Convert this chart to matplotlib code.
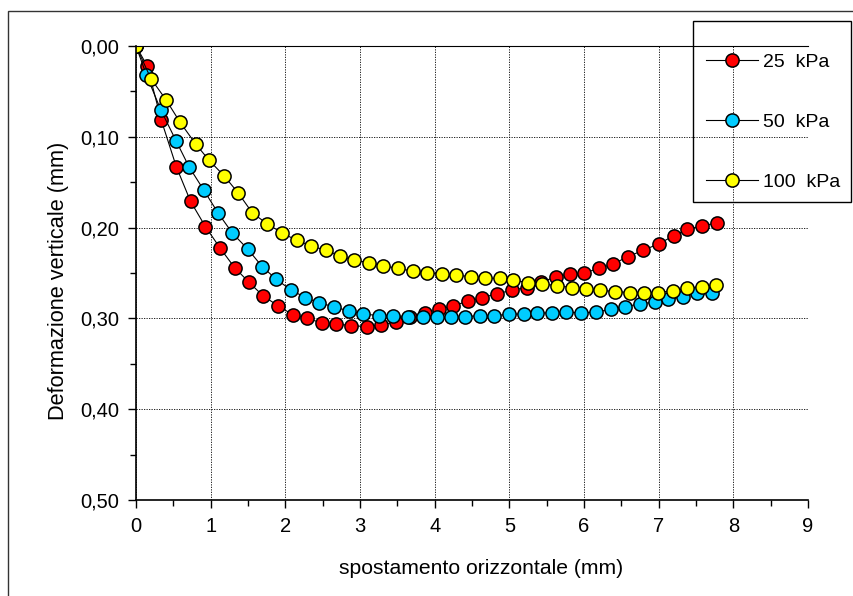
from matplotlib import pyplot as plt
from matplotlib.patches import Rectangle
from matplotlib.ticker import MultipleLocator, FuncFormatter

plt.rcParams['font.family'] = ['Liberation Sans', 'DejaVu Sans']

# 25 kPa
x_25 = [0, 0.15, 0.34, 0.54, 0.73, 0.93, 1.13, 1.32, 1.51, 1.70, 1.90, 2.10, 2.29,
        2.49, 2.68, 2.88, 3.09, 3.28, 3.48, 3.67, 3.87, 4.06, 4.25, 4.45, 4.64,
        4.83, 5.03, 5.23, 5.43, 5.63, 5.81, 6.00, 6.20, 6.39, 6.59, 6.79, 7.00,
        7.20, 7.38, 7.58, 7.78]
y_25 = [0, 0.022, 0.082, 0.133, 0.171, 0.199, 0.223, 0.244, 0.260, 0.275, 0.286,
        0.296, 0.300, 0.305, 0.306, 0.308, 0.309, 0.307, 0.304, 0.299, 0.294,
        0.290, 0.286, 0.281, 0.277, 0.273, 0.269, 0.266, 0.260, 0.254, 0.251,
        0.250, 0.245, 0.240, 0.232, 0.225, 0.218, 0.209, 0.202, 0.198, 0.195]

# 50 kPa
x_50 = [0, 0.14, 0.33, 0.54, 0.71, 0.91, 1.10, 1.29, 1.50, 1.69, 1.88, 2.08, 2.27,
        2.45, 2.65, 2.85, 3.04, 3.25, 3.44, 3.64, 3.84, 4.03, 4.22, 4.41, 4.61,
        4.79, 4.99, 5.19, 5.37, 5.57, 5.76, 5.96, 6.16, 6.36, 6.55, 6.75, 6.95,
        7.13, 7.33, 7.52, 7.72]
y_50 = [0, 0.032, 0.070, 0.105, 0.133, 0.159, 0.184, 0.206, 0.224, 0.243, 0.257,
        0.269, 0.277, 0.283, 0.287, 0.292, 0.295, 0.297, 0.297, 0.298, 0.299,
        0.299, 0.299, 0.298, 0.297, 0.297, 0.2955, 0.295, 0.294, 0.294, 0.293,
        0.294, 0.293, 0.290, 0.287, 0.284, 0.282, 0.279, 0.276, 0.272, 0.2715]

# 100 kPa
x_100 = [0, 0.20, 0.40, 0.59, 0.80, 0.98, 1.18, 1.37, 1.56, 1.76, 1.96, 2.15, 2.34,
         2.54, 2.73, 2.92, 3.12, 3.31, 3.51, 3.71, 3.90, 4.10, 4.29, 4.49, 4.67,
         4.87, 5.05, 5.25, 5.44, 5.64, 5.84, 6.03, 6.22, 6.42, 6.61, 6.80, 6.99,
         7.19, 7.38, 7.58, 7.77]
y_100 = [0, 0.036, 0.059, 0.084, 0.108, 0.126, 0.143, 0.162, 0.184, 0.196, 0.206,
         0.214, 0.220, 0.225, 0.231, 0.236, 0.2385, 0.242, 0.245, 0.248, 0.250,
         0.251, 0.2525, 0.254, 0.2555, 0.256, 0.258, 0.2605, 0.262, 0.264, 0.266,
         0.2675, 0.269, 0.2705, 0.2715, 0.2715, 0.2715, 0.2695, 0.267, 0.265, 0.2635]

labels = ['25  kPa', '50  kPa', '100  kPa']
colors = ['#FF0000', '#00CCFF', '#FFFF00']

W, H = 854, 596
fig = plt.figure(figsize=(W / 100, H / 100), dpi=100)
ax = fig.add_axes([136 / W, 1 - 500 / H, 672 / W, 454 / H])

for xs, ys, lab, col in zip([x_25, x_50, x_100], [y_25, y_50, y_100], labels, colors):
    ax.plot(xs, ys, '-o', color='black', lw=0.8, markerfacecolor=col,
            markeredgecolor='black', markeredgewidth=1.1, markersize=9.5, label=lab)

ax.set_xlim(0, 9)
ax.set_ylim(0.5, 0)
ax.xaxis.set_major_locator(MultipleLocator(1))
ax.xaxis.set_minor_locator(MultipleLocator(0.5))
ax.yaxis.set_major_locator(MultipleLocator(0.1))
ax.yaxis.set_minor_locator(MultipleLocator(0.05))
ax.yaxis.set_major_formatter(FuncFormatter(lambda v, p: f'{v:.2f}'.replace('.', ',')))

ax.grid(True, which='major', color='black', linestyle=(0, (1.5, 1.5)), lw=0.6)
ax.tick_params(which='both', direction='out', labelsize=14.5, width=1, pad=6)
ax.tick_params(which='major', length=6)
ax.tick_params(which='minor', length=4)
ax.spines['right'].set_visible(False)
ax.spines['top'].set_linewidth(0.8)
ax.spines['left'].set_linewidth(1.2)
ax.spines['bottom'].set_linewidth(1.2)

ax.set_xlabel('spostamento orizzontale (mm)', fontsize=15.2)
ax.xaxis.set_label_coords((481 - 136) / 672, -(559 - 500) / 454)
ax.set_ylabel('Deformazione verticale (mm)', fontsize=15.7)
ax.yaxis.set_label_coords((69 - 136) / 672, 1 - (281 - 46) / 454)

# legend: frame drawn separately, entries placed inside
leg = fig.legend(loc='center left', bbox_to_anchor=(706 / W, 1 - 122 / H),
                 fontsize=14, frameon=False, labelspacing=2.17, borderpad=0,
                 handlelength=2.65, handletextpad=0.3, borderaxespad=0)
fig.patches.append(Rectangle((693 / W, 1 - 202 / H), 158 / W, 181 / H,
                             transform=fig.transFigure, fill=False,
                             edgecolor='black', lw=1.0))

# outer chart border
fig.patches.append(Rectangle((8 / W, -0.1), 1.2, 1.1 - 11 / H,
                             transform=fig.transFigure, fill=False,
                             edgecolor='#333333', lw=1.0))

fig.savefig('out.png', dpi=100)
